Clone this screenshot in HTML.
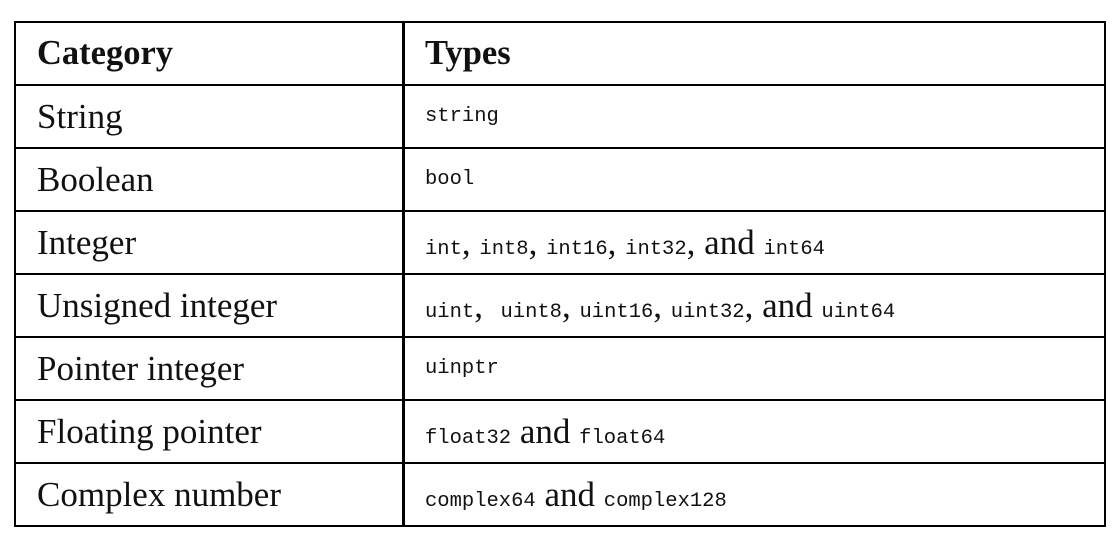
<!DOCTYPE html>
<html><head><style>
html,body{margin:0;padding:0;background:#fff;width:1120px;height:548px;overflow:hidden}
table{position:absolute;left:14px;top:21px;border-collapse:collapse;width:1092px;table-layout:fixed}
td{border:2px solid #000;padding:0 0 0 21px;height:61px;font-family:"Liberation Serif",serif;font-size:35px;color:#111;vertical-align:middle;white-space:nowrap}
td.c1{width:365px}
tr.h td{font-weight:bold;font-size:34.5px;height:61px}
td.t{padding-left:20px;border-left:3px solid #000}
td.m code{position:relative;top:-7px}
code{font-family:"Liberation Mono",monospace;font-size:20.5px}
</style></head><body>
<table>
<tr class="h"><td class="c1">Category</td><td class="t">Types</td></tr>
<tr><td class="c1">String</td><td class="t m"><code>string</code></td></tr>
<tr><td class="c1">Boolean</td><td class="t m"><code>bool</code></td></tr>
<tr><td class="c1">Integer</td><td class="t"><code>int</code>, <code>int8</code>, <code>int16</code>, <code>int32</code>, and <code>int64</code></td></tr>
<tr><td class="c1">Unsigned integer</td><td class="t"><code>uint</code>,&nbsp; <code>uint8</code>, <code>uint16</code>, <code>uint32</code>, and <code>uint64</code></td></tr>
<tr><td class="c1">Pointer integer</td><td class="t m"><code>uinptr</code></td></tr>
<tr><td class="c1">Floating pointer</td><td class="t"><code>float32</code> and <code>float64</code></td></tr>
<tr><td class="c1">Complex number</td><td class="t"><code>complex64</code> and <code>complex128</code></td></tr>
</table>
</body></html>
